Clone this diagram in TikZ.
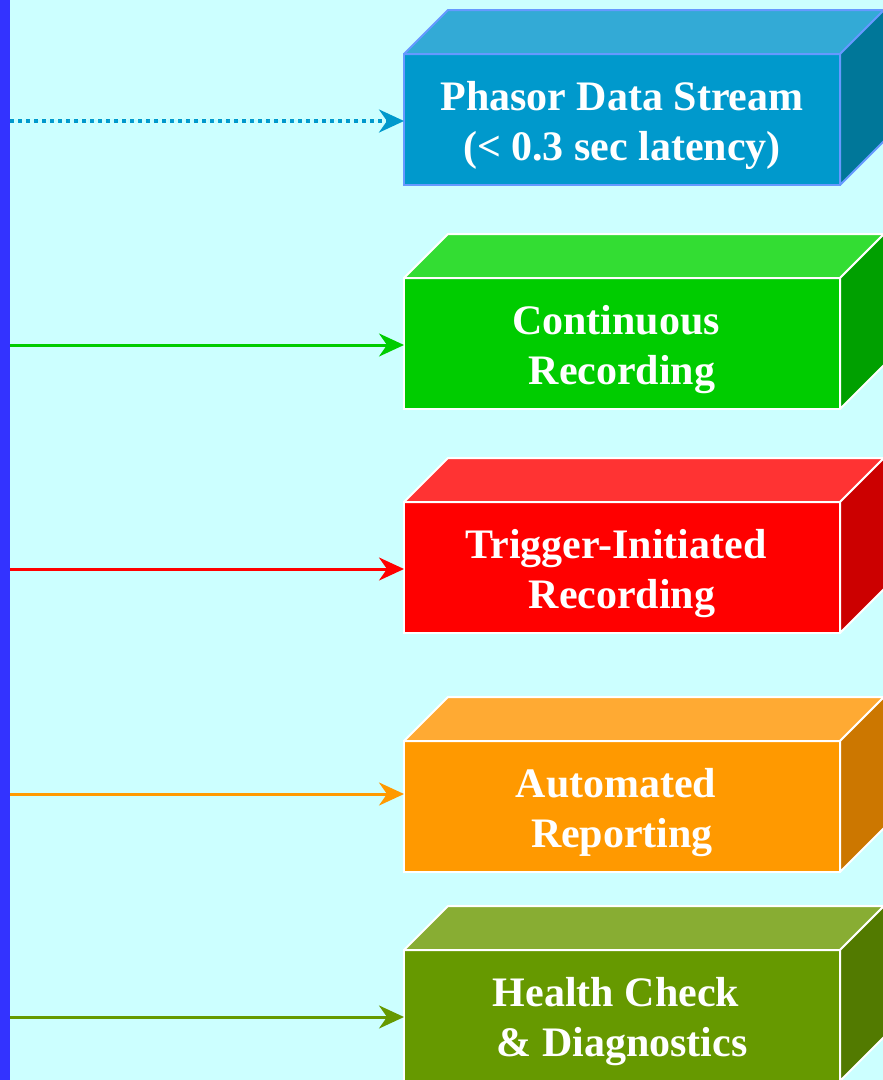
\documentclass[tikz,border=0pt]{standalone}
\usepackage{fontspec}
\setmainfont{Liberation Serif}
\usetikzlibrary{arrows.meta}
\definecolor{bg}{HTML}{CCFFFF}
\definecolor{bar}{HTML}{3333FF}
\definecolor{bluefront}{HTML}{0099CC}
\definecolor{bluetop}{HTML}{33AAD6}
\definecolor{blueside}{HTML}{007799}
\definecolor{blueedge}{HTML}{6699FF}
\definecolor{greenfront}{HTML}{00CC00}
\definecolor{greentop}{HTML}{33DD33}
\definecolor{greenside}{HTML}{00A000}
\definecolor{redfront}{HTML}{FF0000}
\definecolor{redtop}{HTML}{FF3333}
\definecolor{redside}{HTML}{CC0000}
\definecolor{orangefront}{HTML}{FF9900}
\definecolor{orangetop}{HTML}{FFAA33}
\definecolor{orangeside}{HTML}{CC7700}
\definecolor{olivefront}{HTML}{669900}
\definecolor{olivetop}{HTML}{88AD33}
\definecolor{oliveside}{HTML}{527A00}
\newcommand\boxfaces[4]{%
  \filldraw[fill=#2, draw=#4, line width=2pt, line join=round]
    (#1.north west) -- ++(44,-44) -- ++(436,0) -- (#1.north east) -- cycle;
  \filldraw[fill=#3, draw=#4, line width=2pt, line join=round]
    (#1.north east) -- ++(44,-44) -- ++(0,131) -- (#1.south east) -- cycle;
}
\newcommand\topstrut{\rule{0pt}{41.5pt}}
\begin{document}
\begin{tikzpicture}[x=1pt,y=-1pt,
  frontbox/.style={draw=white, line width=2pt, minimum width=436pt, minimum height=131pt,
    inner sep=0pt, outer sep=0pt, anchor=north west, text=white, align=center,
    font=\bfseries\fontsize{42}{50}\selectfont},
  conn/.style={line width=3pt, -{Stealth[length=25pt, width=23pt, inset=8pt]}},
  dotconn/.style={conn, line width=3.5pt, dash pattern=on 4pt off 4pt}]
\useasboundingbox (0,0) rectangle (883,1080);
\fill[bg] (0,0) rectangle (883,1080);
\fill[bar] (0,0) rectangle (10,1080);

\node[frontbox, fill=bluefront, draw=blueedge] (b1) at (404,54) {\topstrut Phasor Data Stream\\(< 0.3 sec latency)};
\boxfaces{b1}{bluetop}{blueside}{blueedge}
\node[frontbox, fill=greenfront] (b2) at (404,278) {\topstrut Continuous\hspace*{12pt}\\Recording};
\boxfaces{b2}{greentop}{greenside}{white}
\node[frontbox, fill=redfront] (b3) at (404,502) {\topstrut Trigger-Initiated\hspace*{12pt}\\Recording};
\boxfaces{b3}{redtop}{redside}{white}
\node[frontbox, fill=orangefront] (b4) at (404,741) {\topstrut Automated\hspace*{12pt}\\Reporting};
\boxfaces{b4}{orangetop}{orangeside}{white}
\node[frontbox, fill=olivefront] (b5) at (404,950) {\topstrut Health Check\hspace*{12pt}\\\& Diagnostics};
\boxfaces{b5}{olivetop}{oliveside}{white}

\coordinate (s1) at (10,121);
\coordinate (s2) at (10,345);
\coordinate (s3) at (10,569);
\coordinate (s4) at (10,794);
\coordinate (s5) at (10,1017);
\draw[dotconn, draw=bluefront] (s1) -- (s1 -| b1.west);
\draw[conn, draw=greenfront] (s2) -- (s2 -| b2.west);
\draw[conn, draw=redfront] (s3) -- (s3 -| b3.west);
\draw[conn, draw=orangefront] (s4) -- (s4 -| b4.west);
\draw[conn, draw=olivefront] (s5) -- (s5 -| b5.west);
\end{tikzpicture}
\end{document}
